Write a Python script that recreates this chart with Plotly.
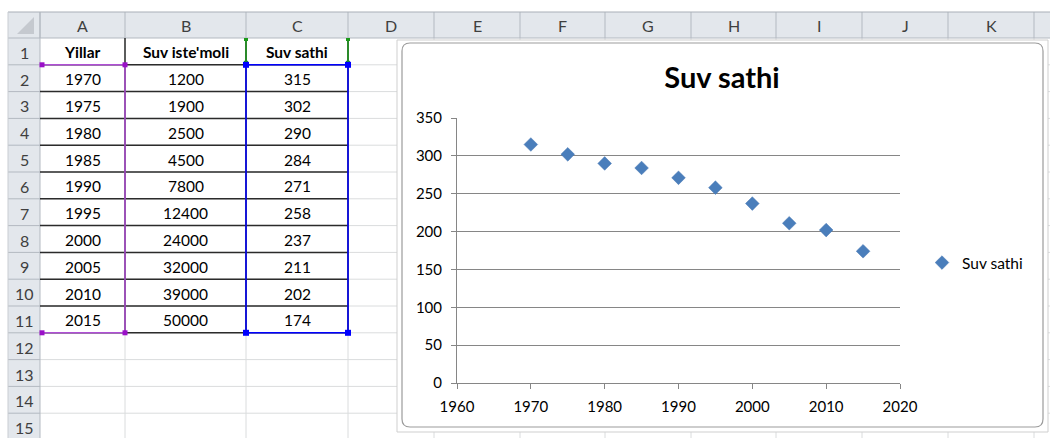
import plotly.graph_objects as go

# ---------------- data ----------------
years = [1970, 1975, 1980, 1985, 1990, 1995, 2000, 2005, 2010, 2015]
suv_istemoli = [1200, 1900, 2500, 4500, 7800, 12400, 24000, 32000, 39000, 50000]
suv_sathi = [315, 302, 290, 284, 271, 258, 237, 211, 202, 174]
headers = ["Yillar", "Suv iste'moli", "Suv sathi"]
col_letters = ["A", "B", "C", "D", "E", "F", "G", "H", "I", "J", "K", "L"]
row_numbers = list(range(1, 16))
chart_title = "Suv sathi"
x_ticks = [1960, 1970, 1980, 1990, 2000, 2010, 2020]
y_ticks = [0, 50, 100, 150, 200, 250, 300, 350]

# ---------------- layout constants (pixels) ----------------
W, H = 1050, 438
FONT = "Lato, Open Sans, sans-serif"
COL_EDGES = [8, 40, 125, 246, 348, 434, 520, 605, 691, 776, 862, 948, 1034, 1120]
HEAD_TOP, HEAD_BOT = 12, 38
ROW_H = 26.8
ROW_EDGES = [HEAD_BOT + i * ROW_H for i in range(16)]
CHART = dict(x0=402, x1=1043, y0=43, y1=427)
PLOT = dict(x0=457, x1=900, y0=118, y1=383)

HEADER_BG = "#E3E7EC"
HEADER_LINE = "#B3B9C1"
GRID = "#DADCDD"
TABLE_LINE = "#2B2B2B"
PURPLE = "#B04FD6"
BLUE = "#0000FF"
GREEN = "#1A9A1A"


def fx(x):
    return x / W


def fy(y):
    return 1 - y / H


shapes = []


def line(x0, y0, x1, y1, color, width=1):
    shapes.append(dict(type="line", xref="paper", yref="paper",
                       x0=fx(x0), y0=fy(y0), x1=fx(x1), y1=fy(y1),
                       line=dict(color=color, width=width), layer="below"))


def rect(x0, y0, x1, y1, fill, color=None, width=0):
    shapes.append(dict(type="rect", xref="paper", yref="paper",
                       x0=fx(x0), y0=fy(y0), x1=fx(x1), y1=fy(y1),
                       fillcolor=fill, line=dict(color=color or fill, width=width),
                       layer="below"))


# header bands
rect(COL_EDGES[0], HEAD_TOP, W, HEAD_BOT, HEADER_BG)
rect(COL_EDGES[0], HEAD_BOT, COL_EDGES[1], H, HEADER_BG)

# cell gridlines
for x in COL_EDGES[2:]:
    line(x, HEAD_BOT, x, H, GRID)
for y in ROW_EDGES[1:]:
    line(COL_EDGES[1], y, W, y, GRID)

# header separators
for x in COL_EDGES[1:]:
    line(x, HEAD_TOP, x, HEAD_BOT, HEADER_LINE)
for y in ROW_EDGES[1:]:
    line(COL_EDGES[0], y, COL_EDGES[1], y, HEADER_LINE)
line(COL_EDGES[0], HEAD_TOP, W, HEAD_TOP, "#A9AFB7")
line(COL_EDGES[0], HEAD_BOT, W, HEAD_BOT, HEADER_LINE)
line(COL_EDGES[1], HEAD_TOP, COL_EDGES[1], H, HEADER_LINE)
line(COL_EDGES[0], HEAD_TOP, COL_EDGES[0], H, "#C9CDD2")

# select-all triangle
shapes.append(dict(type="path", xref="paper", yref="paper",
                   path="M {} {} L {} {} L {} {} Z".format(fx(34), fy(17), fx(34), fy(34), fx(17), fy(34)),
                   fillcolor="#C5C9CF", line=dict(width=0), layer="below"))

# table borders (A1:C11)
for i in range(1, 12):
    line(COL_EDGES[1], ROW_EDGES[i], COL_EDGES[4], ROW_EDGES[i], TABLE_LINE, 1.5)
for x in COL_EDGES[2:5]:
    line(x, ROW_EDGES[0], x, ROW_EDGES[11], TABLE_LINE, 1.5)

# purple range (A2:A11)
line(COL_EDGES[1], ROW_EDGES[1], COL_EDGES[2], ROW_EDGES[1], PURPLE, 1.5)
line(COL_EDGES[1], ROW_EDGES[11], COL_EDGES[2], ROW_EDGES[11], PURPLE, 1.5)
line(COL_EDGES[2], ROW_EDGES[1], COL_EDGES[2], ROW_EDGES[11], PURPLE, 1.5)
# blue range (C2:C11)
line(COL_EDGES[3], ROW_EDGES[1], COL_EDGES[4], ROW_EDGES[1], BLUE, 1.5)
line(COL_EDGES[3], ROW_EDGES[11], COL_EDGES[4], ROW_EDGES[11], BLUE, 1.5)
line(COL_EDGES[3], ROW_EDGES[1], COL_EDGES[3], ROW_EDGES[11], BLUE, 1.5)
line(COL_EDGES[4], ROW_EDGES[1], COL_EDGES[4], ROW_EDGES[11], BLUE, 1.5)
# green range (C1)
line(COL_EDGES[3], ROW_EDGES[0] + 1, COL_EDGES[3], ROW_EDGES[1], GREEN, 1.5)
line(COL_EDGES[4], ROW_EDGES[0] + 1, COL_EDGES[4], ROW_EDGES[1], GREEN, 1.5)


# handles
def handle(cx, cy, color, s=3):
    rect(cx - s, cy - s, cx + s, cy + s, color)


for cx in (COL_EDGES[3], COL_EDGES[4]):
    rect(cx - 2, ROW_EDGES[0], cx + 2, ROW_EDGES[0] + 3, GREEN)
    handle(cx, ROW_EDGES[1] - 2, GREEN, 2)
for cx in (COL_EDGES[1] + 2, COL_EDGES[2]):
    for cy in (ROW_EDGES[1], ROW_EDGES[11]):
        handle(cx, cy, "#9A10C8", 2.5)
for cx in (COL_EDGES[3], COL_EDGES[4]):
    for cy in (ROW_EDGES[1], ROW_EDGES[11]):
        handle(cx, cy, BLUE, 3)

# chart frame
rect(CHART["x0"] - 5, CHART["y0"] - 3, CHART["x1"] + 5, CHART["y1"] + 5, "white", "#CFCFCF", 1)
r = 8
x0, x1, y0, y1 = CHART["x0"], CHART["x1"], CHART["y0"], CHART["y1"]
path = ("M {a} {b} L {c} {b} Q {x1} {b} {x1} {d} L {x1} {e} Q {x1} {f} {c} {f} "
        "L {a} {f} Q {x0} {f} {x0} {e} L {x0} {d} Q {x0} {b} {a} {b} Z").format(
    a=fx(x0 + r), b=fy(y0), c=fx(x1 - r), d=fy(y0 + r), e=fy(y1 - r), f=fy(y1),
    x0=fx(x0), x1=fx(x1))
shapes.append(dict(type="path", xref="paper", yref="paper", path=path,
                   fillcolor="white", line=dict(color="#9C9C9C", width=1.2), layer="below"))

# ---------------- annotations ----------------
annotations = []


def text(x, y, s, size=15, color="black", bold=False, xanchor="center"):
    annotations.append(dict(x=fx(x), y=fy(y), xref="paper", yref="paper", text=s,
                            showarrow=False, xanchor=xanchor, yanchor="middle",
                            font=dict(family=FONT, size=size, color=color,
                                      weight="bold" if bold else "normal")))


for i, letter in enumerate(col_letters):
    cx = (COL_EDGES[i + 1] + COL_EDGES[i + 2]) / 2
    if cx < W:
        text(cx, (HEAD_TOP + HEAD_BOT) / 2 + 1, letter, 16, "#3F3F3F")
for i, n in enumerate(row_numbers):
    text((COL_EDGES[0] + COL_EDGES[1]) / 2, (ROW_EDGES[i] + ROW_EDGES[i + 1]) / 2 + 1, str(n), 16, "#3F3F3F")

table_cols = [headers[0:1] + [str(v) for v in years],
              headers[1:2] + [str(v) for v in suv_istemoli],
              headers[2:3] + [str(v) for v in suv_sathi]]
for c, col in enumerate(table_cols):
    cx = (COL_EDGES[c + 1] + COL_EDGES[c + 2]) / 2
    for rI, val in enumerate(col):
        cy = (ROW_EDGES[rI] + ROW_EDGES[rI + 1]) / 2 + 1
        text(cx, cy, val, 15.5, "black", bold=(rI == 0))

# ---------------- figure ----------------
fig = go.Figure()
fig.add_trace(go.Scatter(
    x=years, y=suv_sathi, mode="markers", name="Suv sathi",
    marker=dict(symbol="diamond", size=10.5, color="#4A7EBB",
                line=dict(color="#4677B2", width=0.5)),
))

fig.update_layout(
    template="none",
    width=W, height=H,
    margin=dict(l=0, r=0, t=0, b=0, pad=0, autoexpand=False),
    paper_bgcolor="white",
    plot_bgcolor="rgba(0,0,0,0)",
    font=dict(family=FONT, size=15, color="black"),
    title=dict(text=chart_title, x=fx(722), y=fy(78), xref="paper", yref="paper",
               xanchor="center", yanchor="middle",
               font=dict(family=FONT, size=29, color="black", weight="bold")),
    xaxis=dict(domain=[fx(PLOT["x0"]), fx(PLOT["x1"])], range=[1960, 2020],
               tickvals=x_ticks, showgrid=False, zeroline=False, automargin=False,
               showline=True, linecolor="#868686", linewidth=1,
               ticks="outside", ticklen=5, tickcolor="#868686",
               ticklabelstandoff=5,
               tickfont=dict(size=15, color="black"), fixedrange=True),
    yaxis=dict(domain=[fy(PLOT["y1"]), fy(PLOT["y0"])], range=[0, 350],
               tickvals=y_ticks, showgrid=True, gridcolor="#868686", gridwidth=1,
               zeroline=False, showline=True, linecolor="#868686", linewidth=1,
               automargin=False,
               ticks="outside", ticklen=5, tickcolor="#868686",
               ticklabelstandoff=6,
               tickfont=dict(size=15, color="black"), fixedrange=True),
    showlegend=True,
    legend=dict(x=fx(922), y=fy(263), xanchor="left", yanchor="middle",
                bgcolor="rgba(0,0,0,0)", font=dict(size=15.5, color="black"),
                itemwidth=30),
    shapes=shapes,
    annotations=annotations,
)

fig.write_html("out.html", config={"displayModeBar": False},
               post_script="document.body.style.margin='0';document.body.style.overflow='hidden';")
